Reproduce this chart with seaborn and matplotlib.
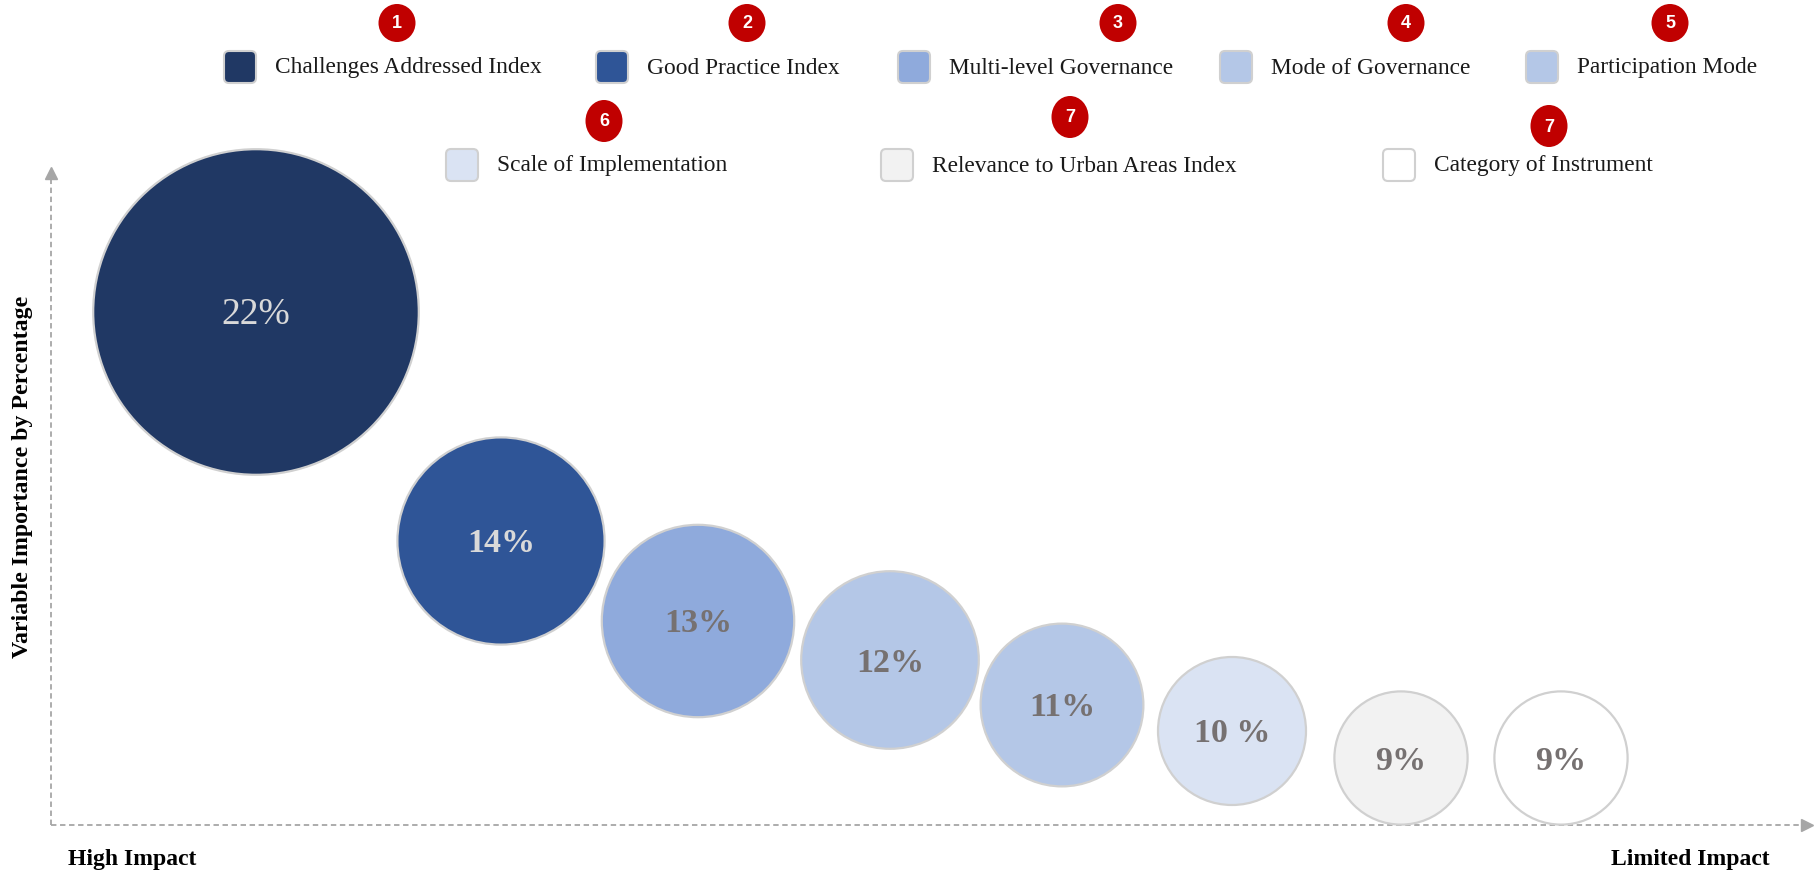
"""
Variable importance bubble chart (infographic style)
"""

import matplotlib.pyplot as plt
from matplotlib.patches import FancyBboxPatch, Ellipse
import pandas as pd
import seaborn as sns

sns.set_theme(style="white")
plt.rcParams['font.family'] = ['Liberation Serif', 'DejaVu Serif']

# ── Data ──────────────────────────────────────────────────────────────────────
variables = [
    "Challenges Addressed Index", "Good Practice Index", "Multi-level Governance",
    "Mode of Governance", "Participation Mode", "Scale of Implementation",
    "Relevance to Urban Areas Index", "Category of Instrument",
]
importance = [22, 14, 13, 12, 11, 10, 9, 9]
value_labels = ["22%", "14%", "13%", "12%", "11%", "10 %", "9%", "9%"]
rank_badges = ["1", "2", "3", "4", "5", "6", "7", "7"]

# ── Styles / layout (pixel space of a 1814x873 canvas) ───────────────────────
colors = ["#203864", "#2F5597", "#8FAADC", "#B4C7E7", "#B4C7E7",
          "#DAE3F3", "#F2F2F2", "#FFFFFF"]
label_colors = ["#D9D9D9", "#D9D9D9", "#767171", "#767171", "#767171",
                "#767171", "#767171", "#767171"]
bubble_x = [256, 501, 698, 890, 1062, 1232, 1401, 1561]
bubble_y = [312, 541, 621, 660, 705, 731, 758, 758]
swatch_x = [240, 612, 914, 1236, 1542, 462, 897, 1399]
swatch_y = [67, 67, 67, 67, 67, 165, 165, 165]
badge_x = [397, 747, 1118, 1406, 1670, 604, 1070, 1549]
badge_y = [23, 23, 23, 23, 23, 121, 117, 126]
PX_PER_UNIT = 7.4   # bubble radius in pixels per percentage point

W, H, DPI = 1814, 873, 100
fig = plt.figure(figsize=(W / DPI, H / DPI), dpi=DPI)
ax = fig.add_axes([0, 0, 1, 1])

df = pd.DataFrame({"x": bubble_x, "y": bubble_y, "value": importance,
                   "variable": variables})
# marker area in pt^2 so that radius scales with the percentage
px_to_pt = 72 / DPI
df["s"] = (2 * df["value"] * PX_PER_UNIT * px_to_pt) ** 2

sns.scatterplot(data=df, x="x", y="y", hue="variable", palette=colors,
                s=df["s"], edgecolor="#D0D0D0", linewidth=1.6, alpha=1,
                legend=False, ax=ax, zorder=3)
ax.set_xlim(0, W)
ax.set_ylim(H, 0)
ax.axis('off')

for i, (x, y, lab) in enumerate(zip(bubble_x, bubble_y, value_labels)):
    ax.text(x, y + 3, lab, ha='center', va='center', zorder=4,
            fontsize=27 if i == 0 else 24.5,
            fontweight='normal' if i == 0 else 'bold',
            color=label_colors[i])

# ── Axis arrows (dashed) ──────────────────────────────────────────────────────
axis_col = "#A6A6A6"
ax.plot([51, 51], [825, 175], ls=(0, (3, 2)), color=axis_col, lw=1.3, zorder=1)
ax.plot([51], [173], marker='^', color=axis_col, ms=8, zorder=1)
ax.plot([51, 1805], [825, 825], ls=(0, (3, 2)), color=axis_col, lw=1.3, zorder=1)
ax.plot([1807], [825], marker='>', color=axis_col, ms=8, zorder=1)

ax.text(23, 477, "Variable Importance by Percentage", rotation=90,
        ha='center', va='center', fontsize=17.2, fontweight='bold', color='black')
ax.text(68, 860, "High Impact", ha='left', va='center', fontsize=17,
        fontweight='bold', color='black')
ax.text(1770, 860, "Limited Impact", ha='right', va='center', fontsize=17,
        fontweight='bold', color='black')

# ── Legend with rank badges ───────────────────────────────────────────────────
SW = 32
for i, name in enumerate(variables):
    sx, sy = swatch_x[i], swatch_y[i]
    box = FancyBboxPatch((sx - SW / 2, sy - SW / 2), SW, SW,
                         boxstyle="round,pad=0,rounding_size=5",
                         facecolor=colors[i], edgecolor="#D0D0D0", lw=1.5)
    ax.add_patch(box)
    ax.text(sx + SW / 2 + 19, sy + 1, name, ha='left', va='center',
            fontsize=16.8, color='#1a1a1a')

    bx, by = badge_x[i], badge_y[i]
    bh = 38 if i < 5 else 42
    ax.add_patch(Ellipse((bx, by), 37, bh, facecolor="#C00000",
                         edgecolor='none', zorder=5))
    ax.text(bx, by + 1, rank_badges[i], ha='center', va='center', color='white',
            fontsize=13, fontweight='bold', family=['Liberation Sans'], zorder=6)

plt.savefig("out.png", dpi=DPI, facecolor='white')
plt.close()
